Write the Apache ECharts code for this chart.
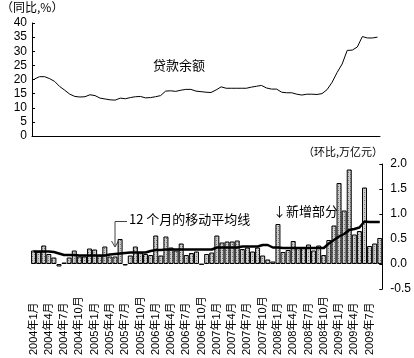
<!DOCTYPE html>
<html><head><meta charset="utf-8">
<script src="https://cdn.jsdelivr.net/npm/echarts@6/dist/echarts.min.js"></script>
<style>html,body{margin:0;padding:0;background:#fff}#c{width:414px;height:358px}</style>
</head><body><div id="c"></div>
<script>
// categories: 2004年1月 .. 2009年9月
const categories = [];
for (let y = 2004; y <= 2009; y++) {
  for (let m = 1; m <= 12; m++) {
    if (y === 2009 && m > 9) break;
    categories.push(y + '年' + m + '月');
  }
}
// loan balance yoy growth (%)
const loanYoY = [
  20.2, 21.0, 21.0, 20.3, 19.3, 17.5, 16.2, 14.8, 14.0, 13.8, 13.9, 14.6,
  14.3, 13.4, 13.1, 12.8, 12.7, 13.4, 13.2, 13.6, 13.9, 14.0, 13.5, 13.6,
  13.9, 14.3, 15.9, 16.0, 15.8, 16.2, 16.5, 16.5, 15.9, 15.7, 15.5, 15.4,
  16.3, 17.4, 16.9, 16.9, 16.9, 16.9, 16.9, 17.3, 17.6, 17.9, 17.0, 16.6,
  16.6, 15.5, 15.3, 15.3, 14.8, 14.5, 14.8, 14.8, 14.7, 15.0, 16.4, 19.0,
  22.5, 25.5, 30.3, 30.4, 31.5, 35.2, 34.7, 34.7, 35.0
];
// new loans month-on-month (万亿元)
const newLoans = [
  0.27, 0.25, 0.37, 0.20, 0.13, -0.05, 0.03, 0.13, 0.27, 0.15, 0.15, 0.31,
  0.29, 0.17, 0.35, 0.15, 0.15, 0.50, -0.03, 0.17, 0.35, 0.23, 0.20, 0.18,
  0.57, 0.17, 0.55, 0.33, 0.27, 0.41, 0.18, 0.22, 0.25, -0.01, 0.20, 0.23,
  0.57, 0.43, 0.45, 0.45, 0.47, 0.30, 0.33, 0.25, 0.33, 0.17, 0.09, 0.05,
  0.80, 0.24, 0.28, 0.46, 0.32, 0.33, 0.39, 0.27, 0.37, 0.18, 0.48, 0.77,
  1.62, 1.07, 1.89, 0.59, 0.66, 1.53, 0.36, 0.41, 0.52
];
// 12-month moving average
const movingAvg = [
  0.25, 0.25, 0.25, 0.25, 0.24, 0.21, 0.18, 0.18, 0.18, 0.17, 0.17, 0.17,
  0.17, 0.17, 0.17, 0.19, 0.20, 0.21, 0.22, 0.23, 0.23, 0.23, 0.23, 0.26,
  0.28, 0.28, 0.29, 0.29, 0.29, 0.29, 0.29, 0.29, 0.29, 0.29, 0.29, 0.29,
  0.33, 0.33, 0.33, 0.33, 0.33, 0.35, 0.35, 0.35, 0.35, 0.38, 0.38, 0.33,
  0.33, 0.32, 0.32, 0.32, 0.32, 0.32, 0.32, 0.32, 0.32, 0.32, 0.41, 0.48,
  0.55, 0.60, 0.68, 0.70, 0.73, 0.85, 0.84, 0.84, 0.84
];
const yLeftTicks = [0, 40, 5];
const yRightTicks = [-0.5, 2.0, 0.5];

const FONT = '"Liberation Sans","Noto Sans CJK SC",sans-serif';
const CJK = '"Noto Sans CJK SC",sans-serif';

// dotted grey fill pattern for bars
const pc = document.createElement('canvas');
pc.width = 4; pc.height = 4;
const px = pc.getContext('2d');
px.fillStyle = '#cfcfcf'; px.fillRect(0, 0, 4, 4);
px.fillStyle = '#6e6e6e';
px.fillRect(0, 0, 1, 1); px.fillRect(2, 2, 1, 1);
px.fillStyle = '#a4a4a4';
px.fillRect(2, 0, 1, 1); px.fillRect(0, 2, 1, 1);

const chart = echarts.init(document.getElementById('c'), null, {renderer: 'canvas'});
chart.setOption({
  animation: false,
  backgroundColor: '#fff',
  grid: [
    {left: 32, right: 34, top: 23, height: 113},
    {left: 31, right: 30, top: 164, height: 125}
  ],
  xAxis: [
    {
      gridIndex: 0, type: 'category', data: categories, boundaryGap: true,
      axisLine: {lineStyle: {color: '#000', width: 1}},
      axisTick: {inside: true, length: 3, interval: 0, lineStyle: {color: '#000'}},
      axisLabel: {show: false}
    },
    {
      gridIndex: 1, type: 'category', data: categories, boundaryGap: true,
      axisLine: {show: false}, axisTick: {show: false},
      axisLabel: {
        interval: 2, rotate: 90, align: 'left', verticalAlign: 'middle', margin: 66,
        fontSize: 11, color: '#000', fontFamily: FONT
      }
    }
  ],
  yAxis: [
    {
      gridIndex: 0, type: 'value', min: yLeftTicks[0], max: yLeftTicks[1], interval: yLeftTicks[2],
      axisLine: {show: true, lineStyle: {color: '#000'}},
      axisTick: {show: true, inside: true, length: 3, lineStyle: {color: '#000'}},
      splitLine: {show: false},
      axisLabel: {fontSize: 12, color: '#000', margin: 5, fontFamily: FONT}
    },
    {
      gridIndex: 1, type: 'value', position: 'right',
      min: yRightTicks[0], max: yRightTicks[1], interval: yRightTicks[2],
      axisLine: {show: true, lineStyle: {color: '#000'}},
      axisTick: {show: true, inside: true, length: 3, lineStyle: {color: '#000'}},
      splitLine: {show: false},
      axisLabel: {fontSize: 12, color: '#000', margin: 8, fontFamily: FONT,
        formatter: v => v.toFixed(1)}
    }
  ],
  series: [
    {
      type: 'line', xAxisIndex: 0, yAxisIndex: 0, data: loanYoY,
      symbol: 'none', lineStyle: {color: '#000', width: 1}
    },
    {
      type: 'bar', xAxisIndex: 1, yAxisIndex: 1, data: newLoans,
      barCategoryGap: '2%',
      itemStyle: {color: {image: pc, repeat: 'repeat'}, borderColor: '#000', borderWidth: 1}
    },
    {
      type: 'line', xAxisIndex: 1, yAxisIndex: 1, data: movingAvg, z: 5,
      symbol: 'none', lineStyle: {color: '#000', width: 2.5}
    }
  ],
  graphic: [
    {type: 'text', left: 1, top: 1, style: {text: '（同比,%）', font: '12px ' + CJK, fill: '#000'}},
    {type: 'text', left: 303, top: 146, style: {text: '（环比,万亿元）', font: '11px ' + CJK, fill: '#000'}},
    {type: 'text', left: 153, top: 59, style: {text: '贷款余额', font: '13px ' + CJK, fill: '#000'}},
    {type: 'text', left: 129, top: 213, style: {text: '12 个月的移动平均线', font: '13px ' + CJK, fill: '#000'}},
    {type: 'text', left: 273, top: 205, style: {text: '↓新增部分', font: '13px ' + CJK, fill: '#000'}},
    {type: 'polyline', shape: {points: [[127, 221.5], [115, 221.5], [115, 247]]}, style: {stroke: '#444', lineWidth: 1, fill: null}},
    {type: 'polyline', shape: {points: [[111.5, 241], [115, 247], [118.5, 241]]}, style: {stroke: '#444', lineWidth: 1, fill: null}}
  ]
});
</script>
</body></html>
